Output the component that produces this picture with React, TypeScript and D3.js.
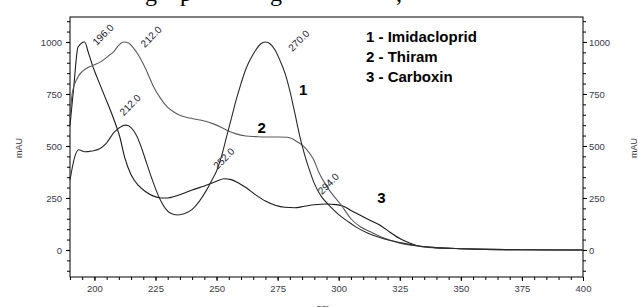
import { useEffect, useRef } from "react";
import * as d3 from "d3";

// wavelength (nm) / absorbance (mAU) pairs
const imidacloprid: [number, number][] = [
  [190, 336], [192, 450], [193.5, 482], [196, 472], [199, 476], [202, 485], [205, 515],
  [208, 565], [211, 594], [213, 600], [215, 588], [217, 555], [219, 500], [221, 430],
  [223, 360], [225, 295], [227, 240], [229, 200], [231, 178], [234, 168], [237, 175],
  [240, 195], [243, 235], [246, 290], [248.5, 345], [250, 380], [252, 450], [254, 540],
  [256, 630], [258, 720], [260, 800], [262, 870], [264, 920], [266, 960], [268, 990],
  [270, 1000], [272, 990], [274, 960], [276, 910], [278, 850], [280, 765], [282, 660],
  [284, 550], [286, 460], [288, 385], [290, 320], [293, 255], [296, 216], [300, 170],
  [304, 135], [307, 111], [312, 80], [318, 55], [325, 36], [332, 20], [340, 11],
  [350, 6], [360, 3], [375, 1], [390, 0], [400, 0],
];

const thiram: [number, number][] = [
  [190, 640], [191, 760], [193, 826], [197, 875], [200, 890], [203, 908], [206, 935],
  [208, 955], [210, 985], [212, 1000], [214, 995], [216, 970], [218, 937], [221, 870],
  [224, 790], [227, 730], [230, 685], [233, 660], [236, 643], [240, 632], [245, 620],
  [249, 605], [254, 577], [258, 558], [262, 548], [266, 545], [270, 543], [275, 543],
  [279, 542], [281, 535], [283, 520], [285, 505], [287, 481], [289.5, 440], [292, 370],
  [296, 290], [301, 216], [305, 150], [309, 110], [313, 87], [318, 60], [325, 33],
  [332, 20], [340, 11], [350, 6], [360, 3], [375, 1], [390, 0], [400, 0],
];

const carboxin: [number, number][] = [
  [190, 600], [191.5, 780], [193.3, 976], [196, 1000], [197.5, 950], [199.4, 880],
  [201, 832], [204.3, 736], [207.6, 639], [210.4, 543], [212.5, 440], [215, 362],
  [218, 310], [221, 280], [224, 260], [227, 250], [230, 250], [233, 258], [236, 270],
  [240, 288], [245, 308], [250, 330], [253, 342], [256, 338], [259, 322], [262, 300],
  [266, 265], [270, 235], [274, 215], [278, 205], [282, 203], [286, 210], [290, 217],
  [295, 221], [299, 218], [302, 210], [305, 190], [308.6, 168], [311.5, 150],
  [316.8, 120], [321, 85], [325, 55], [329, 33], [333, 18], [340, 10], [350, 6],
  [360, 3], [375, 1], [400, 0],
];

const legendItems = ["1 - Imidacloprid", "2 - Thiram", "3 - Carboxin"];

// peak annotations: [nm, mAU, label]
const peakLabels: [number, number, string][] = [
  [196, 1000, "196.0"],
  [212, 1000, "212.0"],
  [212, 600, "212.0"],
  [270, 1000, "270.0"],
  [252, 342, "252.0"],
  [294, 221, "294.0"],
];
const peakOffsets = [[12, 4], [21, 6], [0, -9], [27, 10], [-4, -9], [-2, -9]];

// curve numbers placed next to the traces: [nm, mAU, text]
const curveTags: [number, number, string][] = [
  [285.5, 745, "1"],
  [268.5, 562, "2"],
  [317.5, 225, "3"],
];

const xTicks = [200, 225, 250, 275, 300, 325, 350, 375, 400];
const yTicks = [0, 250, 500, 750, 1000];

const W = 638;
const H = 307;
const m = { left: 70, top: 17, right: 55, bottom: 30 };

export default function App() {
  const ref = useRef<SVGSVGElement>(null);

  useEffect(() => {
    if (!ref.current) return;
    const svg = d3.select(ref.current);
    svg.selectAll("*").remove();

    const iw = W - m.left - m.right;
    const ih = H - m.top - m.bottom;

    const x = d3.scaleLinear().domain([190, 400]).range([0, iw]);
    const y = d3.scaleLinear().domain([-130, 1120]).range([ih, 0]);

    const font = "'Liberation Sans', Arial, sans-serif";

    // clipped caption from the page above the figure
    svg
      .append("text")
      .attr("font-family", "'Liberation Serif', 'Times New Roman', serif")
      .attr("font-size", 24)
      .attr("fill", "#000")
      .selectAll("tspan")
      .data([[145, "g"], [180, "p"], [270, "g"], [396, ","]])
      .enter()
      .append("tspan")
      .attr("x", (d) => d[0] as number)
      .attr("y", 1)
      .text((d) => d[1] as string);

    const g = svg.append("g").attr("transform", `translate(${m.left},${m.top})`);

    const styleAxis = (sel: d3.Selection<SVGGElement, unknown, null, undefined>) => {
      sel.select(".domain").remove();
      sel.selectAll(".tick line").attr("stroke", "#000");
      sel
        .selectAll(".tick text")
        .attr("fill", "#3a3a4a")
        .style("font-family", font)
        .style("font-size", "9.5px");
    };

    // minor ticks
    g.append("g")
      .attr("transform", `translate(0,${ih})`)
      .call(d3.axisBottom(x).tickValues(d3.range(190, 401, 5)).tickSize(3).tickFormat(() => ""))
      .call(styleAxis);
    g.append("g")
      .call(d3.axisLeft(y).tickValues(d3.range(-100, 1101, 50)).tickSize(3).tickFormat(() => ""))
      .call(styleAxis);
    g.append("g")
      .attr("transform", `translate(${iw},0)`)
      .call(d3.axisRight(y).tickValues(d3.range(-100, 1101, 50)).tickSize(3).tickFormat(() => ""))
      .call(styleAxis);

    // major ticks
    g.append("g")
      .attr("transform", `translate(0,${ih})`)
      .call(d3.axisBottom(x).tickValues(xTicks).tickSize(4).tickPadding(4).tickFormat(d3.format("d")))
      .call(styleAxis);
    g.append("g")
      .call(d3.axisLeft(y).tickValues(yTicks).tickSize(4).tickPadding(4).tickFormat(d3.format("d")))
      .call(styleAxis);
    g.append("g")
      .attr("transform", `translate(${iw},0)`)
      .call(d3.axisRight(y).tickValues(yTicks).tickSize(4).tickPadding(2).tickFormat(d3.format("d")))
      .call(styleAxis);

    // frame
    g.append("rect")
      .attr("width", iw)
      .attr("height", ih)
      .attr("fill", "none")
      .attr("stroke", "#000")
      .attr("stroke-width", 1);

    const line = d3
      .line<[number, number]>()
      .x((d) => x(d[0]))
      .y((d) => y(d[1]))
      .curve(d3.curveMonotoneX);

    const series: [[number, number][], string][] = [
      [carboxin, "#1a1a1a"],
      [thiram, "#5a5a5a"],
      [imidacloprid, "#2a2a2a"],
    ];
    series.forEach(([data, color]) => {
      g.append("path")
        .datum(data)
        .attr("d", line)
        .attr("fill", "none")
        .attr("stroke", color)
        .attr("stroke-width", 1.1);
    });

    // peak labels
    peakLabels.forEach(([nm, v, label], i) => {
      const [dx, dy] = peakOffsets[i];
      g.append("text")
        .attr("transform", `translate(${x(nm) + dx},${y(v) + dy}) rotate(-45)`)
        .attr("fill", "#1a1a30")
        .style("font-family", font)
        .style("font-size", "10px")
        .text(label);
    });

    // curve numbers
    curveTags.forEach(([nm, v, t]) => {
      g.append("text")
        .attr("x", x(nm))
        .attr("y", y(v))
        .attr("text-anchor", "middle")
        .attr("fill", "#000")
        .style("font-family", font)
        .style("font-size", "15px")
        .style("font-weight", "bold")
        .text(t);
    });

    // legend
    legendItems.forEach((t, i) => {
      g.append("text")
        .attr("x", 296)
        .attr("y", 24.5 + i * 20)
        .attr("fill", "#000")
        .style("font-family", font)
        .style("font-size", "15px")
        .style("font-weight", "bold")
        .text(t);
    });

    // axis titles
    svg.append("text")
      .attr("transform", `translate(22,148) rotate(-90)`)
      .attr("text-anchor", "middle")
      .attr("fill", "#3a3a4a")
      .style("font-family", font)
      .style("font-size", "9px")
      .text("mAU");
    svg.append("text")
      .attr("transform", `translate(637,148) rotate(-90)`)
      .attr("text-anchor", "middle")
      .attr("fill", "#3a3a4a")
      .style("font-family", font)
      .style("font-size", "9px")
      .text("mAU");
    svg.append("text")
      .attr("x", 323)
      .attr("y", 311)
      .attr("text-anchor", "middle")
      .attr("fill", "#3a3a4a")
      .style("font-family", font)
      .style("font-size", "9px")
      .text("nm");
  }, []);

  return (
    <svg
      ref={ref}
      width={W}
      height={H}
      style={{ position: "absolute", left: 0, top: 0, background: "#fff" }}
    />
  );
}
